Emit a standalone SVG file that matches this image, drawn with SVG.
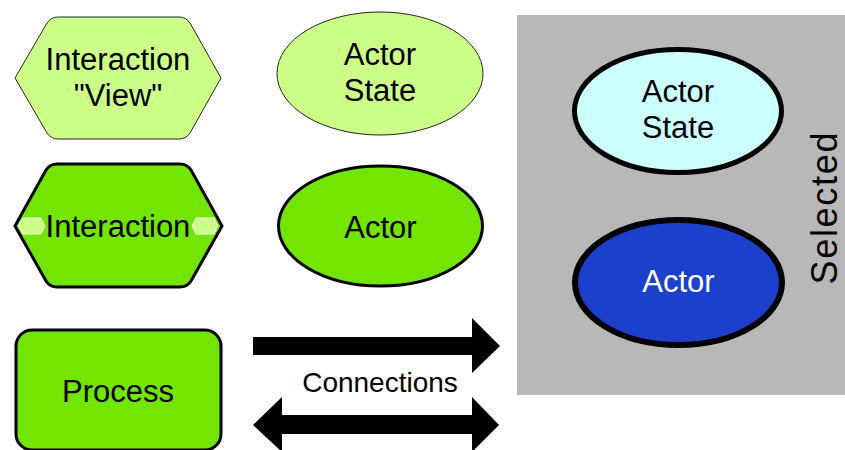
<svg xmlns="http://www.w3.org/2000/svg" width="845" height="450" viewBox="0 0 845 450">
  <style>
    text { font-family: "Liberation Sans", Arial, sans-serif; font-size: 31px; fill: #000; text-anchor: middle; }
    .light { fill: #ccff88; }
    .thin { stroke: #222; stroke-width: 1; }
    .bold { fill: #72e600; stroke: #000; stroke-width: 3; }
    .arrow { fill: #000; }
  </style>

  <!-- selection area -->
  <g id="selected-area">
    <rect x="517" y="15" width="328" height="380" fill="#b8b8b8"/>
    <text x="837" y="208.5" style="font-size:36px" textLength="152" lengthAdjust="spacing" transform="rotate(-90 837 208.5)">Selected</text>
  </g>

  <g id="interaction-view">
    <path class="light thin" d="M15,78 L47,23 Q51,17 58,17 L179,17 Q186,17 190,23 L221,78 L190,133 Q186,139 179,139 L58,139 Q51,139 47,133 Z"/>
    <text x="118" y="70">Interaction</text>
    <text x="118" y="106">"View"</text>
  </g>

  <g id="actor-state">
    <ellipse class="light thin" cx="380" cy="73.5" rx="103" ry="61.5"/>
    <text x="380" y="65">Actor</text>
    <text x="380" y="101">State</text>
  </g>

  <g id="interaction">
    <path class="bold" d="M15,226 L46,170 Q50,164 57,164 L180,164 Q187,164 191,170 L222,226 L191,281 Q187,287 180,287 L57,287 Q50,287 46,281 Z"/>
    <path class="light" stroke="#fff" stroke-width="1" d="M18,226 L23,218 L41,218 L45,226 L41,234 L23,234 Z"/>
    <path class="light" stroke="#fff" stroke-width="1" d="M192,226 L196,218 L214,218 L218,226 L214,234 L196,234 Z"/>
    <text x="118" y="237">Interaction</text>
  </g>

  <g id="actor">
    <ellipse class="bold" cx="380.5" cy="226" rx="102" ry="60" stroke-width="2.5"/>
    <text x="380.5" y="238">Actor</text>
  </g>

  <g id="process">
    <rect class="bold" x="16" y="330" width="205" height="120" rx="16" ry="16"/>
    <text x="118" y="402">Process</text>
  </g>

  <g id="actor-state-selected">
    <ellipse cx="678" cy="111" rx="103.5" ry="61.5" fill="#ccffff" stroke="#000" stroke-width="5"/>
    <text x="678" y="102">Actor</text>
    <text x="678" y="138">State</text>
  </g>

  <g id="actor-selected">
    <ellipse cx="678.5" cy="282.5" rx="103.5" ry="62.5" fill="#1c3fcc" stroke="#000" stroke-width="6"/>
    <text x="678.5" y="292" style="fill:#fff">Actor</text>
  </g>

  <!-- connectors legend -->
  <g id="connectors">
    <path class="arrow" d="M253,337 L472,337 L472,318 L500,346 L472,373 L472,355 L253,355 Z"/>
    <path class="arrow" d="M253,425 L282,397 L282,415 L472,415 L472,397 L499,425 L472,452 L472,434 L282,434 L282,452 Z"/>
    <text x="380" y="392" style="font-size:28px">Connections</text>
  </g>
</svg>
